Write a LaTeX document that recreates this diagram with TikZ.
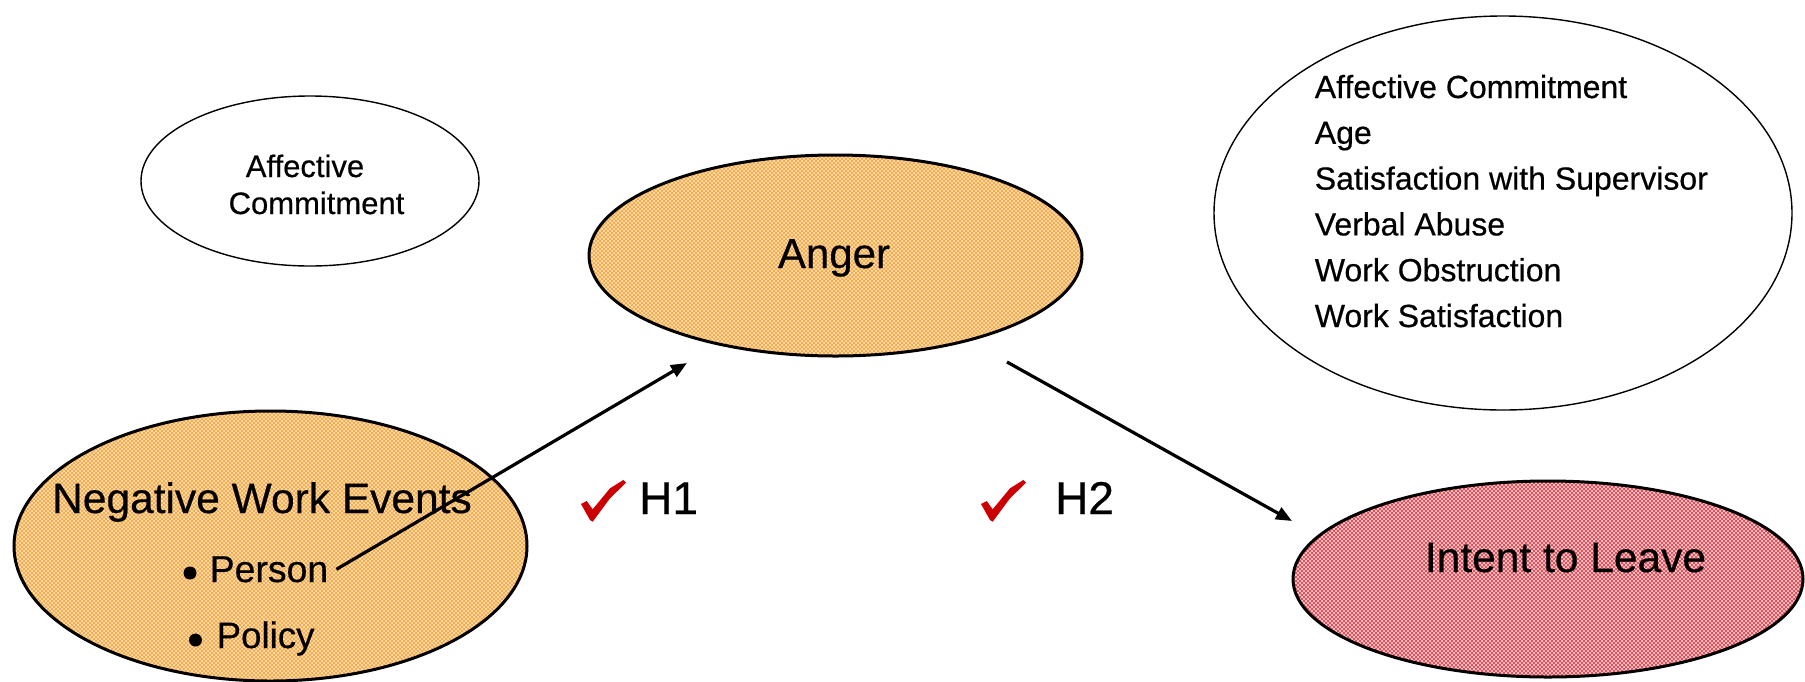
\documentclass[tikz,border=0pt]{standalone}
\usepackage{fontspec}
\setmainfont{Liberation Sans}[FakeBold=0.5]
\newfontfamily\heavy{Liberation Sans}[FakeBold=0.5]
\usetikzlibrary{shapes.geometric,arrows.meta,patterns}
\definecolor{orangebase}{RGB}{255,236,210}
\definecolor{orangeline}{RGB}{250,170,70}
\definecolor{redbase}{RGB}{255,232,234}
\definecolor{redline}{RGB}{228,80,90}
\definecolor{tickred}{RGB}{204,0,0}
\pgfdeclarepatternformonly{xhatch}{\pgfpoint{-1pt}{-1pt}}{\pgfpoint{5pt}{5pt}}{\pgfpoint{4pt}{4pt}}{%
  \pgfsetlinewidth{0.9pt}%
  \pgfpathmoveto{\pgfpoint{-1pt}{-1pt}}\pgfpathlineto{\pgfpoint{5pt}{5pt}}%
  \pgfpathmoveto{\pgfpoint{-1pt}{5pt}}\pgfpathlineto{\pgfpoint{5pt}{-1pt}}%
  \pgfusepath{stroke}}
\tikzset{
  oval/.style={ellipse, inner sep=0pt, draw=black},
  thinoval/.style={oval, line width=1.4pt, fill=white},
  thickoval/.style={oval, line width=3pt},
  orangeoval/.style={thickoval, preaction={fill=orangebase}, pattern=xhatch, pattern color=orangeline},
  redoval/.style={thickoval, preaction={fill=redbase}, pattern=xhatch, pattern color=redline},
  lbl/.style={inner sep=0pt, anchor=base, text=black},
  lblw/.style={inner sep=0pt, anchor=base west, text=black},
  conn/.style={line width=3.2pt, -{Triangle[length=16pt,width=13pt]}},
  tick/.pic={\fill[tickred] (0,0) -- (5.7,-3) -- (11.7,5.3) -- (29,-15.7) -- (42.3,-24) -- (45,-21.3) -- (29,-5.7) -- (11.7,17.7) -- (9,16) -- cycle;}
}
\begin{document}
\begin{tikzpicture}[x=1pt,y=-1pt]
\useasboundingbox (0,0) rectangle (1805,681);
% ovals
\node[thinoval, minimum width=338pt, minimum height=170pt] (ac) at (310,181) {};
\node[orangeoval, minimum width=493pt, minimum height=201pt] (anger) at (835.5,255.5) {};
\node[thinoval, minimum width=578pt, minimum height=394pt] (ctrl) at (1503,213) {};
\node[orangeoval, minimum width=513pt, minimum height=270pt] (nwe) at (270.5,546) {};
\node[redoval, minimum width=510pt, minimum height=196pt] (itl) at (1548,579) {};
% labels
\node[lbl, font=\fontsize{31}{36}\selectfont] (acl1) at (305,177) {Affective};
\node[lbl, font=\fontsize{31}{36}\selectfont] (acl2) at (316.5,214) {Commitment};
\node[lbl, font=\fontsize{42}{50}\selectfont] (angerl) at (834,268) {Anger};
\node[lbl, font=\fontsize{42.5}{50}\selectfont] (nwel) at (262,513) {Negative Work Events};
\fill (190,573) circle (6.5pt) coordinate (b1);
\fill (195.5,640) circle (6.5pt) coordinate (b2);
\node[lblw, font=\fontsize{37.4}{44}\selectfont] (person) at (209.5,582) {Person};
\node[lblw, font=\fontsize{36.7}{44}\selectfont] (policy) at (216.4,648) {Policy};
\node[lbl, font=\fontsize{42.5}{50}\selectfont] (itll) at (1565.5,572) {Intent to Leave};
\foreach \t [count=\i] in {Affective Commitment, Age, Satisfaction with Supervisor, Verbal Abuse, Work Obstruction, Work Satisfaction}
  \node[lblw, font=\fontsize{32}{38}\selectfont] (ctl\i) at (1314.6,{98+45.8*(\i-1)}) {\t};
% hypotheses
\pic at (581,504) {tick};
\pic at (981,504) {tick};
\node[lblw, font=\fontsize{46}{54}\selectfont] (h1) at (639,514) {H1};
\node[lblw, font=\fontsize{46}{54}\selectfont] (h2) at (1055,514) {H2};
% connectors
\coordinate (h1end) at (687,363);
\coordinate (h2start) at (1007,362);
\coordinate (h2end) at (1292,521);
\draw[conn] ([xshift=8pt]person.east) -- (h1end);
\draw[conn] (h2start) -- (h2end);
\end{tikzpicture}
\end{document}
